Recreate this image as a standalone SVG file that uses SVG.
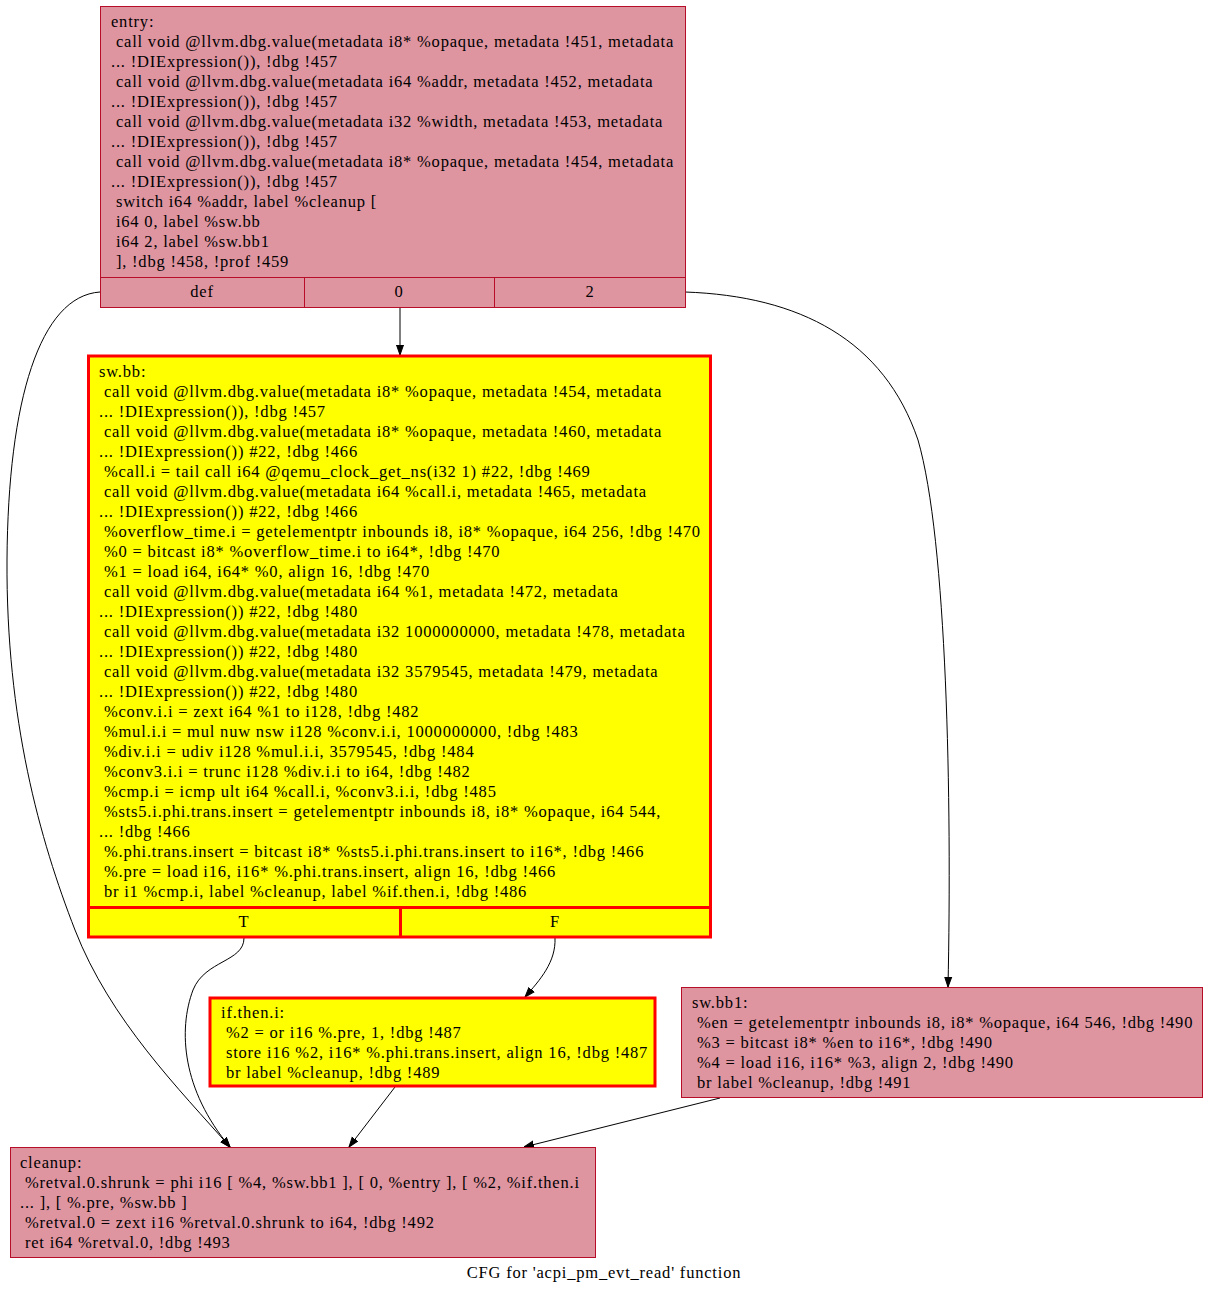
<svg xmlns="http://www.w3.org/2000/svg" width="1209" height="1295" viewBox="0 0 1209 1295">
<style>
text{font-family:"Liberation Serif","Times New Roman",serif;font-size:16.5px;letter-spacing:0.8px;fill:#000;white-space:pre}
.pink{fill:#df95a0;stroke:#b70d28;stroke-width:1}
.yel{fill:#ffff00;stroke:#ff0000;stroke-width:3}
.ysep{stroke:#ff0000;stroke-width:3;fill:none}
.psep{stroke:#b70d28;stroke-width:1;fill:none}
.edge{fill:none;stroke:#000;stroke-width:1}
.mid{text-anchor:middle}
</style>
<defs>
<marker id="arr" viewBox="0 0 10 10" refX="10" refY="5" markerWidth="10" markerHeight="10" markerUnits="userSpaceOnUse" orient="auto">
<path d="M0,1.5 L10,5 L0,8.5 Z" fill="#000" stroke="#000"/>
</marker>
</defs>
<rect width="1209" height="1295" fill="#fff"/>
<g id="connectors">
<path class="edge" marker-end="url(#arr)" d="M100,292 C40,296 8,400 7,560 C6,720 40,840 75,930 C110,1020 180,1090 230,1147"/>
<path class="edge" marker-end="url(#arr)" d="M400,307 L400,355"/>
<path class="edge" marker-end="url(#arr)" d="M685,292 C800,296 884,340 918,440 C947,540 952,800 948,987"/>
<path class="edge" marker-end="url(#arr)" d="M244,938 C244,962 205,960 193,990 C178,1030 182,1090 230,1147"/>
<path class="edge" marker-end="url(#arr)" d="M555,938 C556,962 540,980 525,997"/>
<path class="edge" marker-end="url(#arr)" d="M395,1087 L349,1147"/>
<path class="edge" marker-end="url(#arr)" d="M720,1098 L524,1147"/>
</g>
<g id="entry">
<rect class="pink" x="100.5" y="6.5" width="585" height="301"/>
<path class="psep" d="M100.5,277.5 H685.5 M304.5,277.5 V307.5 M494.5,277.5 V307.5"/>
<text x="111" y="27">entry:</text>
<text x="111" y="47"> call void @llvm.dbg.value(metadata i8* %opaque, metadata !451, metadata</text>
<text x="111" y="67">... !DIExpression()), !dbg !457</text>
<text x="111" y="87"> call void @llvm.dbg.value(metadata i64 %addr, metadata !452, metadata</text>
<text x="111" y="107">... !DIExpression()), !dbg !457</text>
<text x="111" y="127"> call void @llvm.dbg.value(metadata i32 %width, metadata !453, metadata</text>
<text x="111" y="147">... !DIExpression()), !dbg !457</text>
<text x="111" y="167"> call void @llvm.dbg.value(metadata i8* %opaque, metadata !454, metadata</text>
<text x="111" y="187">... !DIExpression()), !dbg !457</text>
<text x="111" y="207"> switch i64 %addr, label %cleanup [</text>
<text x="111" y="227"> i64 0, label %sw.bb</text>
<text x="111" y="247"> i64 2, label %sw.bb1</text>
<text x="111" y="267"> ], !dbg !458, !prof !459</text>
<text class="mid" x="202" y="297">def</text>
<text class="mid" x="399" y="297">0</text>
<text class="mid" x="590" y="297">2</text>
</g>
<g id="sw.bb">
<rect class="yel" x="88.5" y="356" width="622" height="581"/>
<path class="ysep" d="M88.5,907.5 H710.5 M400.5,907.5 V937"/>
<text x="99" y="377">sw.bb:</text>
<text x="99" y="397"> call void @llvm.dbg.value(metadata i8* %opaque, metadata !454, metadata</text>
<text x="99" y="417">... !DIExpression()), !dbg !457</text>
<text x="99" y="437"> call void @llvm.dbg.value(metadata i8* %opaque, metadata !460, metadata</text>
<text x="99" y="457">... !DIExpression()) #22, !dbg !466</text>
<text x="99" y="477"> %call.i = tail call i64 @qemu_clock_get_ns(i32 1) #22, !dbg !469</text>
<text x="99" y="497"> call void @llvm.dbg.value(metadata i64 %call.i, metadata !465, metadata</text>
<text x="99" y="517">... !DIExpression()) #22, !dbg !466</text>
<text x="99" y="537"> %overflow_time.i = getelementptr inbounds i8, i8* %opaque, i64 256, !dbg !470</text>
<text x="99" y="557"> %0 = bitcast i8* %overflow_time.i to i64*, !dbg !470</text>
<text x="99" y="577"> %1 = load i64, i64* %0, align 16, !dbg !470</text>
<text x="99" y="597"> call void @llvm.dbg.value(metadata i64 %1, metadata !472, metadata</text>
<text x="99" y="617">... !DIExpression()) #22, !dbg !480</text>
<text x="99" y="637"> call void @llvm.dbg.value(metadata i32 1000000000, metadata !478, metadata</text>
<text x="99" y="657">... !DIExpression()) #22, !dbg !480</text>
<text x="99" y="677"> call void @llvm.dbg.value(metadata i32 3579545, metadata !479, metadata</text>
<text x="99" y="697">... !DIExpression()) #22, !dbg !480</text>
<text x="99" y="717"> %conv.i.i = zext i64 %1 to i128, !dbg !482</text>
<text x="99" y="737"> %mul.i.i = mul nuw nsw i128 %conv.i.i, 1000000000, !dbg !483</text>
<text x="99" y="757"> %div.i.i = udiv i128 %mul.i.i, 3579545, !dbg !484</text>
<text x="99" y="777"> %conv3.i.i = trunc i128 %div.i.i to i64, !dbg !482</text>
<text x="99" y="797"> %cmp.i = icmp ult i64 %call.i, %conv3.i.i, !dbg !485</text>
<text x="99" y="817"> %sts5.i.phi.trans.insert = getelementptr inbounds i8, i8* %opaque, i64 544,</text>
<text x="99" y="837">... !dbg !466</text>
<text x="99" y="857"> %.phi.trans.insert = bitcast i8* %sts5.i.phi.trans.insert to i16*, !dbg !466</text>
<text x="99" y="877"> %.pre = load i16, i16* %.phi.trans.insert, align 16, !dbg !466</text>
<text x="99" y="897"> br i1 %cmp.i, label %cleanup, label %if.then.i, !dbg !486</text>
<text class="mid" x="244" y="927">T</text>
<text class="mid" x="555" y="927">F</text>
</g>
<g id="if.then.i">
<rect class="yel" x="210" y="998" width="445" height="88"/>
<text x="221" y="1018">if.then.i:</text>
<text x="221" y="1038"> %2 = or i16 %.pre, 1, !dbg !487</text>
<text x="221" y="1058"> store i16 %2, i16* %.phi.trans.insert, align 16, !dbg !487</text>
<text x="221" y="1078"> br label %cleanup, !dbg !489</text>
</g>
<g id="sw.bb1">
<rect class="pink" x="681.5" y="987.5" width="521" height="110"/>
<text x="692" y="1008">sw.bb1:</text>
<text x="692" y="1028"> %en = getelementptr inbounds i8, i8* %opaque, i64 546, !dbg !490</text>
<text x="692" y="1048"> %3 = bitcast i8* %en to i16*, !dbg !490</text>
<text x="692" y="1068"> %4 = load i16, i16* %3, align 2, !dbg !490</text>
<text x="692" y="1088"> br label %cleanup, !dbg !491</text>
</g>
<g id="cleanup">
<rect class="pink" x="10.5" y="1147.5" width="585" height="110"/>
<text x="20" y="1168">cleanup:</text>
<text x="20" y="1188"> %retval.0.shrunk = phi i16 [ %4, %sw.bb1 ], [ 0, %entry ], [ %2, %if.then.i</text>
<text x="20" y="1208">... ], [ %.pre, %sw.bb ]</text>
<text x="20" y="1228"> %retval.0 = zext i16 %retval.0.shrunk to i64, !dbg !492</text>
<text x="20" y="1248"> ret i64 %retval.0, !dbg !493</text>
</g>
<text class="mid" x="604" y="1278">CFG for 'acpi_pm_evt_read' function</text>
</svg>
